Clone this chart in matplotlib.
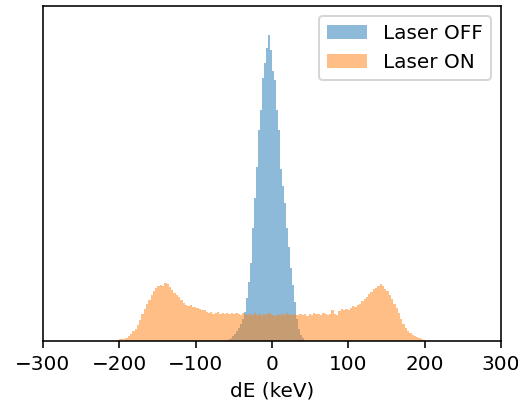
import numpy as np
import matplotlib
matplotlib.use("Agg")
import matplotlib.pyplot as plt

# Energy-spread histograms (dE in keV), counts per bin
off_edges = np.linspace(-59.5, 41.9, 40)      # 39 bins, 2.6 keV wide
off_counts = [1, 2, 3, 5, 7, 10, 13, 17, 22, 29,
              43, 59, 78, 113, 143, 174, 211, 231, 263, 278,
              293, 306, 291, 270, 261, 231, 211, 172, 155, 138,
              113, 94, 73, 56, 39, 22, 12, 6, 3]

on_edges = np.linspace(-204, 201, 136)        # 135 bins, 3 keV wide
on_counts = [1, 2, 2, 2, 3, 5, 7, 10, 12, 16,
             21, 27, 32, 37, 41, 46, 50, 53, 55, 56,
             55, 58, 57, 54, 51, 48, 46, 44, 41, 38,
             36, 35, 36, 34, 34, 33, 32, 31, 31, 29,
             28, 29, 27, 28, 29, 27, 28, 27, 28, 27,
             28, 27, 28, 27, 26, 28, 27,
             26, 27, 26, 28, 26, 27, 25, 27, 26, 28,
             27, 26, 25, 27, 26, 27, 26, 28, 27, 26, 27, 26,
             26, 27, 26, 27, 25, 27, 26, 28, 27,
             27, 26, 28, 27, 26, 27,
             31, 27, 26,
             30, 32, 31, 32, 31, 33,
             35, 34, 36, 37,
             40, 42, 44,
             47, 49, 52,
             53, 55, 57, 55, 52, 50, 46, 42, 37, 33,
             28, 22, 17, 13, 10, 8, 6, 5, 4, 3, 2, 1]

fig = plt.figure(figsize=(518 / 144, 408 / 144), dpi=144)
ax = fig.add_axes([0.083, 0.1654, 0.884, 0.8211])

ax.hist(off_edges[:-1], bins=off_edges, weights=off_counts,
        histtype="stepfilled", alpha=0.5, label="Laser OFF")
ax.hist(on_edges[:-1], bins=on_edges, weights=on_counts,
        histtype="stepfilled", alpha=0.5, label="Laser ON")

ax.set_xlim(-300, 300)
ax.set_ylim(0, 335)
ax.set_yticks([])
ax.set_xticks([-300, -200, -100, 0, 100, 200, 300])
ax.set_xlabel("dE (keV)")
ax.legend(loc="upper right")

fig.savefig("out.png", dpi=144)
